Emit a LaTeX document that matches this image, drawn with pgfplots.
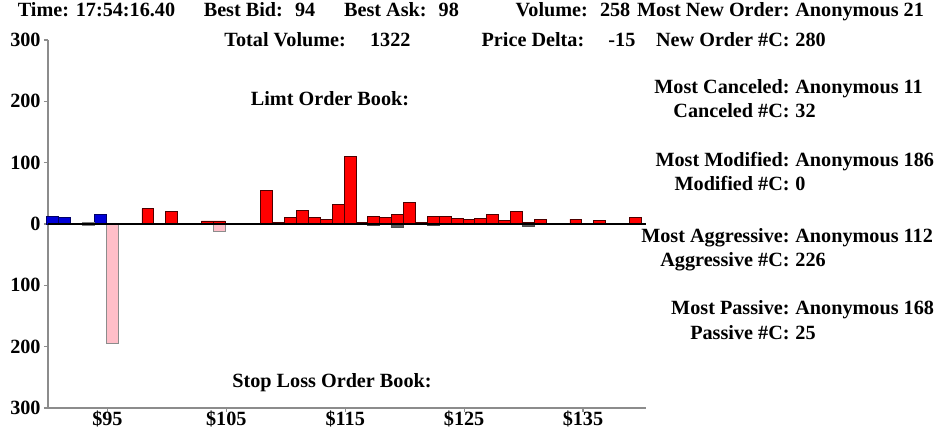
\documentclass[border=0pt]{standalone}
\usepackage{fontspec}
\setmainfont{Liberation Serif}
\usepackage{pgfplots}
\pgfplotsset{compat=1.18}
\definecolor{askred}{RGB}{255,0,0}
\definecolor{bidblue}{RGB}{0,0,215}
\definecolor{stoppink}{RGB}{255,190,200}
\definecolor{axisgray}{RGB}{140,140,140}
\definecolor{darkneg}{RGB}{90,90,90}
\definecolor{lav}{RGB}{165,150,190}
\begin{document}
\begin{tikzpicture}[font=\fontsize{10.1pt}{12pt}\selectfont\bfseries]
\path[use as bounding box] (0,0) rectangle (469.5pt,215.5pt);
\begin{axis}[
  at={(24pt,11.5pt)}, anchor=south west,
  scale only axis, width=299pt, height=184pt,
  xmin=90, xmax=140.3, ymin=-300, ymax=300,
  axis x line=bottom, axis y line=left,
  axis line style={-, draw=axisgray, line width=1pt},
  xtick={95,105,115,125,135},
  xticklabels={\$95,\$105,\$115,\$125,\$135},
  ytick={-300,-200,-100,0,100,200,300},
  yticklabels={300,200,100,0,100,200,300},
  tick align=outside, major tick length=2pt,
  tick style={draw=axisgray, line width=0.6pt},
  xticklabel style={inner sep=0pt, yshift=1pt},
  yticklabel style={inner sep=1.5pt},
  /pgf/number format/assume math mode=true,
  clip=false,
]
\addplot[ybar, bar width=1, bar shift=0.4, fill=askred, draw=black!70!red, line width=0.4pt] coordinates {
(98,25) (100,21) (103,5) (104,5) (108,55) (109,2) (110,11) (111,22) (112,10) (113,8)
(114,32) (115,110) (116,2) (117,13) (118,10) (119,16) (120,35) (121,2) (122,12) (123,13)
(124,9) (125,7) (126,9) (127,16) (128,6) (129,20) (130,2) (131,8) (134,8) (136,6) (139,10)
};
\addplot[ybar, bar width=1, bar shift=0.4, fill=bidblue, draw=black!60!blue, line width=0.4pt] coordinates {
(90,12) (91,10) (94,16)
};
\addplot[ybar, bar width=1, bar shift=0.4, fill=stoppink, draw=black!45, line width=0.4pt] coordinates {
(95,-195) (104,-12)
};
\addplot[ybar, bar width=1, bar shift=0.4, fill=darkneg, draw=black!70, line width=0.4pt] coordinates {
(117,-3) (119,-5) (122,-3) (130,-4)
};
\addplot[ybar, bar width=1, bar shift=0.4, fill=lav, draw=black!50, line width=0.4pt] coordinates {
(93,3) (93,-3)
};
\addplot[black, line width=0.8pt, no marks] coordinates {(90,0) (140.3,0)};
\end{axis}
\tikzset{every node/.style={inner sep=0pt}}
% header line 1
\node[anchor=mid] at (48.25pt,209.5pt) {Time: 17:54:16.40};
\node[anchor=mid] at (129.75pt,209.5pt) {Best Bid:\hspace{0.6em}94};
\node[anchor=mid] at (200.75pt,209.5pt) {Best Ask:\hspace{0.6em}98};
\node[anchor=mid] at (286.5pt,209.5pt) {Volume:\hspace{0.6em}258};
% header line 2
\node[anchor=mid] at (158.75pt,194.5pt) {Total Volume:\hspace{1.2em}1322};
\node[anchor=mid] at (279.25pt,194.5pt) {Price Delta:\hspace{1.2em}-15};
% titles
\node[anchor=mid] at (165pt,165pt) {Limt Order Book:};
\node[anchor=mid] at (166pt,24pt) {Stop Loss Order Book:};
% right panel
\foreach \lab/\val/\yy in {
  {Most New Order:}/{Anonymous 21}/12,
  {New Order \#C:}/{280}/42,
  {Most Canceled:}/{Anonymous 11}/89,
  {Canceled \#C:}/{32}/113,
  {Most Modified:}/{Anonymous 186}/162,
  {Modified \#C:}/{0}/186,
  {Most Aggressive:}/{Anonymous 112}/238,
  {Aggressive \#C:}/{226}/262,
  {Most Passive:}/{Anonymous 168}/310,
  {Passive \#C:}/{25}/335} {
  \node[anchor=mid east] at (395pt,{(431-\yy)*0.5pt}) {\lab};
  \node[anchor=mid west] at (397.5pt,{(431-\yy)*0.5pt}) {\val};
}
\end{tikzpicture}
\end{document}
